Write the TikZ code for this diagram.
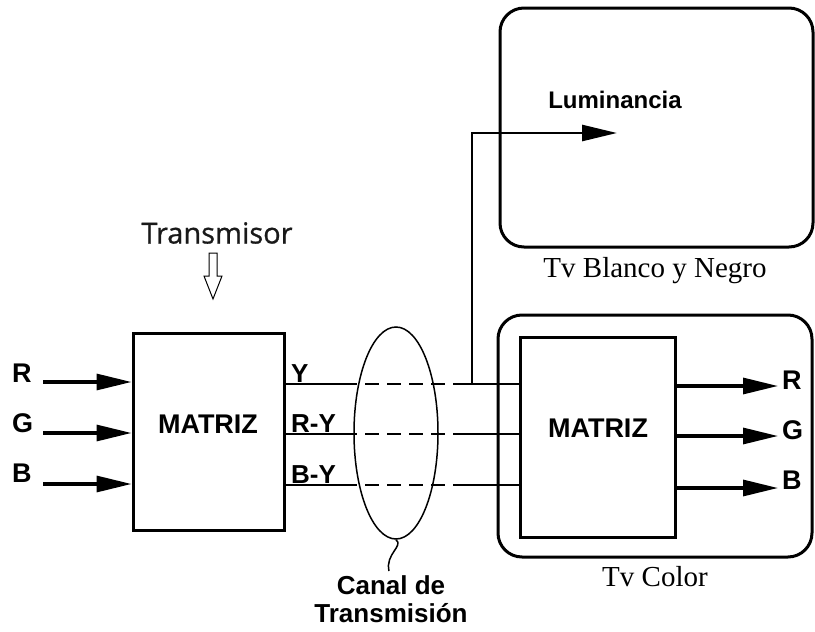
\documentclass[tikz,border=0pt]{standalone}
\usepackage{fontspec}
\setmainfont{Liberation Sans}
\newfontfamily\serifT{Liberation Serif}
\newfontfamily\openS[FakeBold=0.8]{Open Sans}
\usetikzlibrary{arrows.meta,shapes.geometric}
\begin{document}
\begin{tikzpicture}[x=1pt,y=-1pt,
  lbl/.style={font=\fontsize{27}{27}\selectfont\bfseries, inner sep=0pt},
  slbl/.style={font=\fontsize{26}{26}\selectfont\bfseries, inner sep=0pt, anchor=base west},
  tvlbl/.style={font=\fontsize{29}{29}\serifT, inner sep=0pt},
  blk/.style={draw, line width=3pt, inner sep=0pt},
  tvbox/.style={draw, line width=3pt, rounded corners=24pt, inner sep=0pt},
  wire/.style={line width=2.6pt},
  dwire/.style={line width=2.6pt, dash pattern=on 14pt off 8pt},
  arr/.style={line width=3.2pt, -{Triangle[length=35pt,width=16pt]}},
]
\useasboundingbox (0,0) rectangle (815,632);

% boxes
\node[blk, minimum width=151pt, minimum height=197pt] (lm) at (208.5,431.5) {};
\node[tvbox, minimum width=313pt, minimum height=239pt] (bw) at (656.5,127.5) {};
\node[tvbox, minimum width=314pt, minimum height=242pt] (col) at (655,436) {};
\node[blk, minimum width=155pt, minimum height=200pt] (rm) at (597.5,437) {};

\node[font=\fontsize{27}{27}\selectfont\bfseries, inner sep=0pt] (lmt) at (208,424) {MATRIZ};
\node[font=\fontsize{27}{27}\selectfont\bfseries, inner sep=0pt] (rmt) at (598,428) {MATRIZ};

% rows
\coordinate (r1) at (0,384);
\coordinate (r2) at (0,434);
\coordinate (r3) at (0,485);

% inputs
\coordinate (inR) at (43,382);
\coordinate (inG) at (43,433);
\coordinate (inB) at (43,484);
\draw[arr] (inR) -- (inR -| lm.west);
\draw[arr] (inG) -- (inG -| lm.west);
\draw[arr] (inB) -- (inB -| lm.west);
\node[lbl, anchor=base west] (lR) at (12,382) {R};
\node[lbl, anchor=base west] (lG) at (12,432) {G};
\node[lbl, anchor=base west] (lB) at (12,482) {B};

% output labels of transmitter
\node[slbl] (tY) at (291,382) {Y};
\node[slbl] (tRY) at (291,432) {R-Y};
\node[slbl] (tBY) at (291,483) {B-Y};

% channel lines
\coordinate (d1a) at (343,384); \coordinate (d1b) at (467,384);
\coordinate (d2a) at (343,434); \coordinate (d2b) at (467,434);
\coordinate (d3a) at (343,485); \coordinate (d3b) at (467,485);
\coordinate (tap) at (472,384);
\draw[wire] (lm.east |- r1) -- (d1a);
\draw[wire] (lm.east |- r2) -- (d2a);
\draw[wire] (lm.east |- r3) -- (d3a);
\draw[dwire] (d1a) -- (d1b);
\draw[dwire] (d2a) -- (d2b);
\draw[dwire] (d3a) -- (d3b);
\draw[wire] (d1b) -- (rm.west |- r1);
\draw[wire] (d2b) -- (rm.west |- r2);
\draw[wire] (d3b) -- (rm.west |- r3);

% luminance branch
\coordinate (lumtip) at (617,133);
\draw[arr, line width=2.6pt] (tap) -- (tap |- lumtip) -- (lumtip);
\node[font=\fontsize{24}{24}\selectfont\bfseries, inner sep=0pt] (lum) at (615,100) {Luminancia};

% outputs of colour TV
\coordinate (oR) at (778,386);
\coordinate (oG) at (778,436);
\coordinate (oB) at (778,488);
\draw[arr] (oR -| rm.east) -- (oR);
\draw[arr] (oG -| rm.east) -- (oG);
\draw[arr] (oB -| rm.east) -- (oB);
\node[lbl, anchor=base west] (oRl) at (782,389) {R};
\node[lbl, anchor=base west] (oGl) at (782,439) {G};
\node[lbl, anchor=base west] (oBl) at (782,489) {B};

% ellipse channel
\node[draw, ellipse, line width=1.5pt, minimum width=84pt, minimum height=212pt, inner sep=0pt] (ch) at (396,433) {};
\draw[line width=1.5pt] (ch.south) .. controls (404,546) and (385,554) .. (389,571);
\node[font=\fontsize{26}{28}\selectfont\bfseries, align=center, inner sep=0pt] (chl) at (391,599) {Canal de\\Transmisión};

% TV labels
\node[tvlbl] (bwl) at (655,271) {Tv Blanco y Negro};
\node[tvlbl] (coll) at (655,577) {Tv Color};

% transmitter label and hollow arrow
\node[font=\fontsize{29}{29}\openS, text=black!90, inner sep=0pt] (tx) at (217,233) {Transmisor};
\draw[line width=1pt, fill=white] (209,253) -- (217,253) -- (217,276) -- (222,276) -- (213,299) -- (204,276) -- (209,276) -- cycle;
\end{tikzpicture}
\end{document}
